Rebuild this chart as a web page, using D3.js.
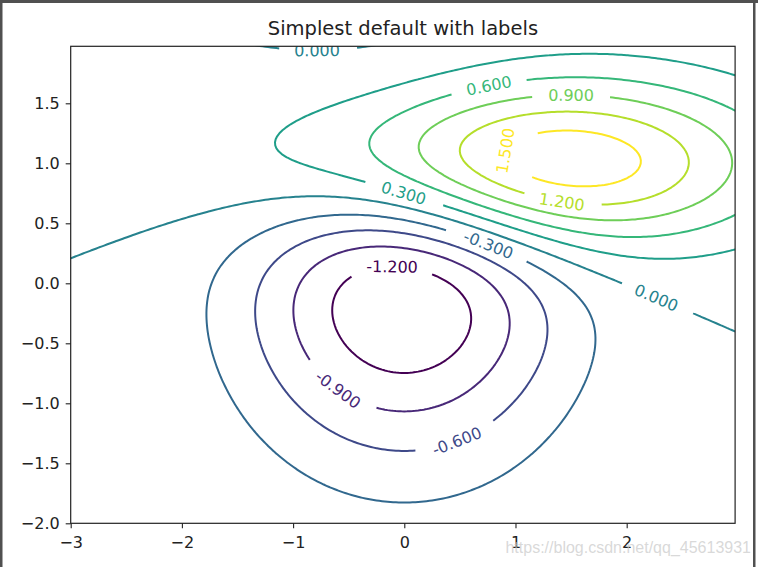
<!DOCTYPE html>
<html>
<head>
<meta charset="utf-8">
<script src="https://cdn.jsdelivr.net/npm/d3@7"></script>
<style>
  html, body { margin: 0; padding: 0; background: #fff; }
  svg { display: block; }
</style>
</head>
<body>
<script>
// contour levels as labelled in the picture
const levels = [-1.2, -0.9, -0.6, -0.3, 0.0, 0.3, 0.6, 0.9, 1.2, 1.5];
// the two gaussian bumps, [sigmaX, sigmaY, muX, muY]; surface = 10 * (high - low)
const lowBump = [1.0, 1.0, 0.0, 0.0];
const highBump = [1.5, 0.5, 1.0, 1.0];
const amplitude = 10;
const xExtent = [-3, 2.975];
const yExtent = [-2, 1.975];
const gridStep = 0.025;
const xTicks = [-3, -2, -1, 0, 1, 2];
const yTicks = [-2, -1.5, -1, -0.5, 0, 0.5, 1, 1.5];
// inline labels: level and rough spot (data units)
const labelLevels = [0.0, 0.6, 0.9, 1.5, 1.2, 0.3, -0.3, -1.2, -0.9, -0.6, 0.0];
const labelX = [-0.785, 0.762, 1.50, 0.915, 1.419, -0.003, 0.762, -0.110, -0.593, 0.466, 2.272];
const labelY = [1.953, 1.644, 1.577, 1.103, 0.694, 0.761, 0.336, 0.144, -0.881, -1.297, -0.106];
const titleText = "Simplest default with labels";
const watermark = "https://blog.csdn.net/qq_45613931";

const width = 758, height = 567;
const plotLeft = 70.7, plotRight = 735.1, plotTop = 46.3, plotBottom = 523.3;

function bump(p, px, py) {
  const dx = (px - p[2]) / p[0], dy = (py - p[3]) / p[1];
  return Math.exp(-(dx * dx + dy * dy) / 2) / (2 * Math.PI * p[0] * p[1]);
}
function surface(px, py) {
  return amplitude * (bump(highBump, px, py) - bump(lowBump, px, py));
}

const x = d3.scaleLinear().domain(xExtent).range([plotLeft, plotRight]);
const y = d3.scaleLinear().domain(yExtent).range([plotBottom, plotTop]);
const color = d3.scaleSequential(d3.interpolateViridis).domain([levels[0], levels[levels.length - 1]]);

const svg = d3.select("body").append("svg")
  .attr("width", width).attr("height", height)
  .style("font-family", "'DejaVu Sans', sans-serif");

svg.append("defs").append("clipPath").attr("id", "plot")
  .append("rect").attr("x", plotLeft).attr("y", plotTop)
  .attr("width", plotRight - plotLeft).attr("height", plotBottom - plotTop);

// grid a bit wider than the axes so no edge rings show
const pad = 0.5;
const gx0 = xExtent[0] - pad, gy0 = yExtent[0] - pad;
const nx = Math.round((xExtent[1] + pad - gx0) / gridStep) + 1;
const ny = Math.round((yExtent[1] + pad - gy0) / gridStep) + 1;
const values = new Float64Array(nx * ny);
for (let j = 0; j < ny; j++) {
  for (let i = 0; i < nx; i++) {
    values[j * nx + i] = surface(gx0 + i * gridStep, gy0 + j * gridStep);
  }
}
const contours = d3.contours().size([nx, ny]).thresholds(levels)(values);

// rings in pixel space, per level
const ringsByLevel = contours.map(c => {
  const rings = [];
  c.coordinates.forEach(poly => poly.forEach(ring => {
    let pts = ring.map(p => [x(gx0 + (p[0] - 0.5) * gridStep), y(gy0 + (p[1] - 0.5) * gridStep)]);
    const a = pts[0], b = pts[pts.length - 1];
    if (a[0] === b[0] && a[1] === b[1]) pts = pts.slice(0, -1);
    rings.push({pts: pts, cuts: []});
  }));
  return {value: c.value, rings: rings};
});

function dist(a, b) { return Math.hypot(a[0] - b[0], a[1] - b[1]); }

// measure label widths
const measure = svg.append("text").style("font-size", "16px");
const labelFmt = d3.format(".3f");

const labels = labelLevels.map((lv, idx) => {
  // pull the rough spot onto the line
  let px = labelX[idx], py = labelY[idx];
  for (let it = 0; it < 20; it++) {
    const h = 1e-4;
    const f = surface(px, py) - lv;
    const gxv = (surface(px + h, py) - surface(px - h, py)) / (2 * h);
    const gyv = (surface(px, py + h) - surface(px, py - h)) / (2 * h);
    const g2 = gxv * gxv + gyv * gyv;
    px -= f * gxv / g2; py -= f * gyv / g2;
  }
  const sp = [x(px), y(py)];
  const txt = labelFmt(lv).replace("\u2212", "-");
  measure.text(txt);
  const w = measure.node().getComputedTextLength();
  const group = ringsByLevel.find(r => Math.abs(r.value - lv) < 1e-9);
  let best = null, bd = Infinity;
  group.rings.forEach(r => r.pts.forEach((p, k) => {
    const d = dist(p, sp);
    if (d < bd) { bd = d; best = {ring: r, k: k}; }
  }));
  const n = best.ring.pts.length;
  const pa = best.ring.pts[(best.k - 3 + n) % n], pb = best.ring.pts[(best.k + 3) % n];
  let ang = Math.atan2(pb[1] - pa[1], pb[0] - pa[0]) * 180 / Math.PI;
  if (ang > 90) ang -= 180;
  if (ang < -90) ang += 180;
  best.ring.cuts.push({k: best.k, half: w / 2 + 13});
  return {text: txt, level: lv, x: sp[0], y: sp[1], angle: ang};
});
measure.remove();

function splitRing(r) {
  const pts = r.pts, n = pts.length;
  if (!r.cuts.length) return [pts.concat([pts[0]])];
  const keep = new Array(n).fill(true);
  r.cuts.forEach(c => {
    keep[c.k] = false;
    [1, -1].forEach(step => {
      let d = 0, j = c.k;
      while (d < c.half) {
        const nj = (j + step + n) % n;
        d += dist(pts[j], pts[nj]);
        j = nj;
        keep[j] = false;
        if (j === c.k) break;
      }
    });
  });
  const start = keep.findIndex((v, i) => v && !keep[(i - 1 + n) % n]);
  if (start < 0) return [];
  const lines = [];
  let cur = null;
  for (let s = 0; s < n; s++) {
    const i = (start + s) % n;
    if (keep[i]) {
      if (!cur) { cur = []; lines.push(cur); }
      cur.push(pts[i]);
    } else cur = null;
  }
  return lines;
}

const line = d3.line();
const plot = svg.append("g").attr("clip-path", "url(#plot)");

ringsByLevel.forEach(group => {
  group.rings.forEach(r => {
    splitRing(r).forEach(seg => {
      plot.append("path")
        .attr("d", line(seg))
        .attr("fill", "none")
        .attr("stroke", color(group.value))
        .attr("stroke-width", 2)
        .attr("stroke-linejoin", "round");
    });
  });
});

plot.selectAll("text.clabel")
  .data(labels)
  .enter()
  .append("text")
  .attr("class", "clabel")
  .attr("transform", d => `translate(${d.x},${d.y}) rotate(${d.angle})`)
  .attr("text-anchor", "middle")
  .attr("dy", "0.36em")
  .style("font-size", "16px")
  .attr("fill", d => color(d.level))
  .text(d => d.text);

// axes
const xAxis = svg.append("g")
  .attr("transform", `translate(0,${plotBottom})`)
  .call(d3.axisBottom(x).tickValues(xTicks).tickFormat(d3.format("d")).tickSize(5).tickSizeOuter(0).tickPadding(8));
const yAxis = svg.append("g")
  .attr("transform", `translate(${plotLeft},0)`)
  .call(d3.axisLeft(y).tickValues(yTicks).tickFormat(d3.format(".1f")).tickSize(5).tickSizeOuter(0).tickPadding(6));

[xAxis, yAxis].forEach(a => {
  a.select(".domain").remove();
  a.selectAll("line").attr("stroke", "#222").attr("stroke-width", 1.1);
  a.selectAll("text")
    .style("font-size", "16px")
    .style("font-family", "'DejaVu Sans', sans-serif")
    .attr("fill", "#222");
});

svg.append("rect")
  .attr("x", plotLeft).attr("y", plotTop)
  .attr("width", plotRight - plotLeft).attr("height", plotBottom - plotTop)
  .attr("fill", "none").attr("stroke", "#222").attr("stroke-width", 1.2);

svg.append("text")
  .attr("x", (plotLeft + plotRight) / 2)
  .attr("y", 35)
  .attr("text-anchor", "middle")
  .style("font-size", "19.5px")
  .attr("fill", "#222")
  .text(titleText);

// watermark + screenshot frame
svg.append("text")
  .attr("x", 751).attr("y", 553)
  .attr("text-anchor", "end")
  .style("font-family", "'Liberation Sans', Arial, sans-serif")
  .style("font-size", "16px")
  .attr("fill", "#c8c8c8")
  .attr("fill-opacity", 0.7)
  .text(watermark);

svg.append("rect").attr("x", 0).attr("y", 0).attr("width", width).attr("height", 3).attr("fill", "#505050");
svg.append("rect").attr("x", 0).attr("y", 0).attr("width", 2.5).attr("height", height).attr("fill", "#505050");
svg.append("rect").attr("x", 753).attr("y", 0).attr("width", 2.5).attr("height", height).attr("fill", "#505050");
</script>
</body>
</html>
